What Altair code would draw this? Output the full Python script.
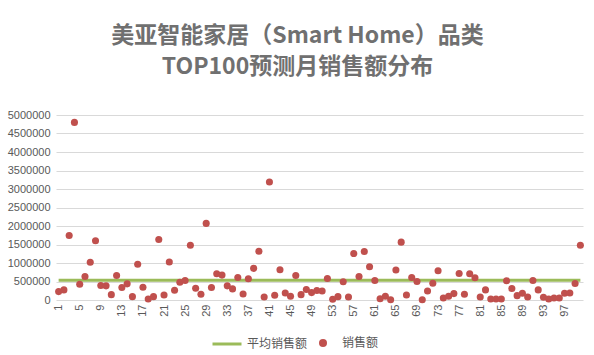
import altair as alt
import pandas as pd

# rank 1..100
ranks = list(range(1, 101))
sales = [
    227000, 273000, 1745000, 4800000, 427000, 636000, 1020000, 1600000, 390000, 382000,
    145000, 664000, 336000, 436000, 91000, 964000, 345000, 27000, 91000, 1636000,
    136000, 1027000, 264000, 482000, 527000, 1480000, 318000, 155000, 2070000, 336000,
    709000, 673000, 382000, 300000, 609000, 164000, 573000, 855000, 1318000, 82000,
    3190000, 127000, 818000, 191000, 100000, 664000, 145000, 282000, 200000, 255000,
    245000, 582000, 18000, 91000, 491000, 82000, 1255000, 636000, 1310000, 900000,
    527000, 36000, 100000, 8000, 809000, 1564000, 136000, 609000, 500000, 5000,
    245000, 455000, 791000, 55000, 100000, 173000, 718000, 155000, 709000, 600000,
    82000, 273000, 27000, 27000, 27000, 518000, 309000, 118000, 182000, 82000,
    527000, 273000, 73000, 27000, 55000, 55000, 182000, 191000, 445000, 1480000,
]
avg_value = sum(sales) / len(sales)
y_ticks = [0, 500000, 1000000, 1500000, 2000000, 2500000, 3000000, 3500000, 4000000, 4500000, 5000000]
x_label_values = list(range(1, 101, 4))

df = pd.DataFrame({"rank": ranks, "sales": sales, "avg": [avg_value] * len(ranks)})

GRAY = "#595959"
GREEN = "#9BBB59"
RED = "#C0504D"

x_axis = alt.Axis(
    title=None, values=x_label_values, labelAngle=-90, labelFontSize=11,
    labelFont="Liberation Sans", labelColor=GRAY, ticks=False, domain=False,
    grid=False, labelPadding=4, labelOverlap=False,
)
y_axis = alt.Axis(
    title=None, values=y_ticks, format="d", labelFontSize=11,
    labelFont="Liberation Sans", labelColor=GRAY, ticks=False, domain=False,
    gridColor="#D9D9D9", gridWidth=1, labelPadding=6, labelOverlap=False,
    tickCount=11,
)
x_scale = alt.Scale(type="point", padding=0.5)
y_scale = alt.Scale(domain=[0, 5000000], nice=False)

line = alt.Chart(df).mark_line(strokeWidth=3).encode(
    x=alt.X("rank:O", scale=x_scale, axis=x_axis),
    y=alt.Y("avg:Q", scale=y_scale, axis=y_axis),
    color=alt.Color(
        "lname:N",
        scale=alt.Scale(domain=["平均销售额"], range=[GREEN]),
        legend=alt.Legend(
            title=None, orient="none", legendX=155, legendY=213,
            symbolType="stroke", symbolSize=841, symbolStrokeWidth=3,
            labelFont="Noto Sans CJK SC", labelFontSize=12, labelColor=GRAY,
            labelOffset=4,
        ),
    ),
).transform_calculate(lname="'平均销售额'")

points = alt.Chart(df).mark_circle(size=50, opacity=1).encode(
    x=alt.X("rank:O", scale=x_scale, axis=x_axis),
    y=alt.Y("sales:Q", scale=y_scale, axis=y_axis),
    color=alt.Color(
        "pname:N",
        scale=alt.Scale(domain=["销售额"], range=[RED]),
        legend=alt.Legend(
            title=None, orient="none", legendX=261, legendY=222,
            symbolType="circle", symbolSize=64,
            labelFont="Noto Sans CJK SC", labelFontSize=12, labelColor=GRAY,
            labelOffset=13,
        ),
    ),
).transform_calculate(pname="'销售额'")

chart = alt.layer(line, points).resolve_scale(color="independent").properties(
    width=527,
    height=185,
    autosize=alt.AutoSizeParams(type="none"),
    padding={"left": 56, "top": 115, "right": 11, "bottom": 55},
    title=alt.TitleParams(
        text=["美亚智能家居（Smart Home）品类", "TOP100预测月销售额分布"],
        font="Noto Sans CJK SC", fontSize=23, fontWeight="bold", color="#707070",
        lineHeight=31, anchor="middle", offset=30, dx=-22,
    ),
).configure_view(stroke=None)

chart.save("out.html", embed_options={"renderer": "svg", "actions": False})
